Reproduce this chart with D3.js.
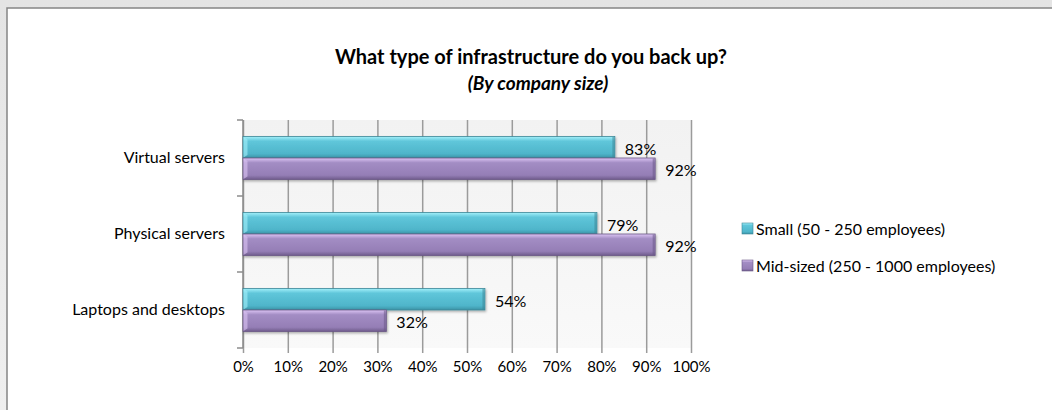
<!DOCTYPE html>
<html>
<head>
<meta charset="utf-8">
<script src="https://cdn.jsdelivr.net/npm/d3@7"></script>
<style>
  html, body { margin: 0; padding: 0; }
  body { width: 1052px; height: 410px; overflow: hidden; background: #fff; }
  text { font-family: Lato, "Noto Sans", sans-serif; fill: #000; }
</style>
</head>
<body>
<svg id="chart" width="1052" height="410"></svg>
<script>
// data
const categories = ["Virtual servers", "Physical servers", "Laptops and desktops"];
const smallValues = [83, 79, 54];
const midValues = [92, 92, 32];
const seriesNames = ["Small (50 - 250 employees)", "Mid-sized (250 - 1000 employees)"];
const xTickValues = [0, 10, 20, 30, 40, 50, 60, 70, 80, 90, 100];

const titleText = "What type of infrastructure do you back up?";
const subtitleText = "(By company size)";

const svg = d3.select("#chart");
const defs = svg.append("defs");

// outer frame background (gray with soft shade) and chart box
const bgGrad = defs.append("linearGradient").attr("id", "bg").attr("x1", 0).attr("y1", 0).attr("x2", 0).attr("y2", 1);
bgGrad.append("stop").attr("offset", "0%").attr("stop-color", "#e4e4e4");
bgGrad.append("stop").attr("offset", "100%").attr("stop-color", "#efefef");
svg.append("rect").attr("width", 1052).attr("height", 410).attr("fill", "url(#bg)");
svg.append("rect").attr("x", 7).attr("y", 8).attr("width", 1060).attr("height", 420)
   .attr("fill", "#fff").attr("stroke", "#858585").attr("stroke-width", 1.5);

// plot area
const plot = { left: 243, right: 691, top: 120, bottom: 348 };

const plotGrad = defs.append("linearGradient").attr("id", "plotbg").attr("x1", 0).attr("y1", 0).attr("x2", 0).attr("y2", 1);
plotGrad.append("stop").attr("offset", "0%").attr("stop-color", "#f2f2f2");
plotGrad.append("stop").attr("offset", "100%").attr("stop-color", "#f9f9f9");
svg.append("rect").attr("x", plot.left).attr("y", plot.top)
   .attr("width", plot.right - plot.left).attr("height", plot.bottom - plot.top)
   .attr("fill", "url(#plotbg)");

const x = d3.scaleLinear().domain([0, 100]).range([plot.left, plot.right]);
const y = d3.scaleBand().domain(categories).range([plot.top, plot.bottom]);
const barPad = 16.5;
const ySeries = d3.scaleBand().domain([0, 1]).range([barPad, y.bandwidth() - barPad]);

// gridlines + bottom axis
const xAxis = d3.axisBottom(x).tickValues(xTickValues).tickSize(plot.bottom - plot.top + 5)
  .tickFormat(d => d + "%");
const gx = svg.append("g").attr("transform", `translate(0,${plot.top})`).call(xAxis);
gx.select(".domain").remove();
gx.selectAll(".tick line").attr("stroke", "#9b9b9b").attr("stroke-width", 1.5);
gx.selectAll(".tick text").attr("dy", "1.05em").style("font-size", "15px").style("font-family", "Lato, sans-serif").attr("fill", "#000");

// left category axis
const yAxis = d3.axisLeft(y).tickSize(0).tickPadding(18);
const gy = svg.append("g").attr("transform", `translate(${plot.left},0)`).call(yAxis);
gy.select(".domain").remove();
gy.selectAll(".tick text").style("font-size", "16px").style("font-family", "Lato, sans-serif").attr("fill", "#000");
svg.append("line").attr("x1", plot.left).attr("x2", plot.left).attr("y1", plot.top).attr("y2", plot.bottom)
   .attr("stroke", "#8c8c8c").attr("stroke-width", 1.5);
const boundaries = [plot.top].concat(categories.map(c => y(c) + y.bandwidth()));
svg.append("g").selectAll("line").data(boundaries).join("line")
   .attr("x1", plot.left - 6).attr("x2", plot.left).attr("y1", d => d).attr("y2", d => d)
   .attr("stroke", "#8c8c8c").attr("stroke-width", 1.5);

// bevelled bar gradients
const palettes = [
  { id: "gSmall", top: "#a4f0fa", mid: "#5fc6da", low: "#4fb5ca", bottom: "#3b93a6", edge: "#3c8797" },
  { id: "gMid", top: "#dcc4f4", mid: "#a38dc4", low: "#957eb6", bottom: "#6f5c8c", edge: "#6a5886" }
];
palettes.forEach(p => {
  const g = defs.append("linearGradient").attr("id", p.id).attr("x1", 0).attr("y1", 0).attr("x2", 0).attr("y2", 1);
  g.append("stop").attr("offset", "0%").attr("stop-color", p.top);
  g.append("stop").attr("offset", "22%").attr("stop-color", p.mid);
  g.append("stop").attr("offset", "80%").attr("stop-color", p.low);
  g.append("stop").attr("offset", "100%").attr("stop-color", p.bottom);
});

const shadow = defs.append("filter").attr("id", "shadow").attr("x", "-5%").attr("y", "-20%").attr("width", "115%").attr("height", "160%");
shadow.append("feDropShadow").attr("dx", 1).attr("dy", 1.5).attr("stdDeviation", 1).attr("flood-color", "#000").attr("flood-opacity", 0.3);

const rows = categories.map((c, i) => ({ cat: c, vals: [smallValues[i], midValues[i]] }));

const barData = [];
rows.forEach(r => r.vals.forEach((v, s) => barData.push({ cat: r.cat, s: s, v: v })));

const bars = svg.append("g").selectAll("g").data(barData).join("g")
  .attr("transform", d => `translate(0,${y(d.cat) + ySeries(d.s)})`);

bars.append("rect")
  .attr("x", x(0)).attr("y", 0)
  .attr("width", d => x(d.v) - x(0)).attr("height", ySeries.bandwidth())
  .attr("fill", d => `url(#${palettes[d.s].id})`)
  .attr("stroke", d => palettes[d.s].edge).attr("stroke-width", 0.8)
  .attr("filter", "url(#shadow)");

// right-end darker cap and left-end lighter bevel
bars.append("rect")
  .attr("x", d => x(d.v) - 2.5).attr("y", 0.5)
  .attr("width", 2).attr("height", ySeries.bandwidth() - 1)
  .attr("fill", d => palettes[d.s].edge).attr("opacity", 0.55);
bars.append("path")
  .attr("d", d => {
    const h = ySeries.bandwidth();
    const x0 = x(0) + 0.5;
    return `M${x0},0.5 L${x0 + 4},3 L${x0 + 4},${h - 3} L${x0},${h - 0.5} Z`;
  })
  .attr("fill", d => palettes[d.s].top).attr("opacity", 0.6);

// value labels
bars.append("text")
  .attr("x", d => x(d.v) + 10)
  .attr("y", ySeries.bandwidth() / 2 + 2)
  .attr("dy", "0.35em")
  .style("font-size", "16px")
  .text(d => d.v + "%");

// title
svg.append("text").attr("x", 531).attr("y", 64).attr("text-anchor", "middle")
  .style("font-size", "20px").style("font-weight", "bold").text(titleText);
svg.append("text").attr("x", 538).attr("y", 90).attr("text-anchor", "middle")
  .style("font-size", "19px").style("font-weight", "bold").style("font-style", "italic").text(subtitleText);

// legend
const legend = svg.append("g").selectAll("g").data(seriesNames).join("g")
  .attr("transform", (d, i) => `translate(742,${223 + i * 37})`);
legend.append("rect").attr("width", 11).attr("height", 11)
  .attr("fill", (d, i) => `url(#${palettes[i].id})`)
  .attr("stroke", (d, i) => palettes[i].edge).attr("stroke-width", 0.6);
legend.append("text").attr("x", 14).attr("y", 6).attr("dy", "0.35em")
  .style("font-size", "16px").text(d => d);
</script>
</body>
</html>
